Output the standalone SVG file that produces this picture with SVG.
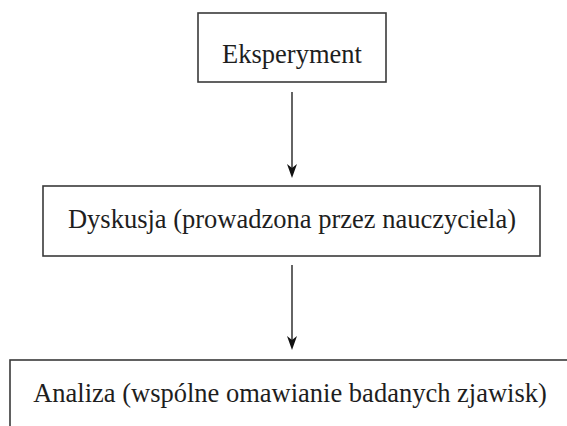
<svg xmlns="http://www.w3.org/2000/svg" width="567" height="426" viewBox="0 0 567 426">
<defs>
<style>
.box{fill:#fff;stroke:#3a3a3a;stroke-width:1.6}
.lbl{font-family:"Liberation Serif","Times New Roman",serif;font-size:26.5px;fill:#1e1e1e;text-anchor:middle}
.conn{stroke:#111;stroke-width:1.3;fill:none}
</style>
<marker id="ah" markerUnits="userSpaceOnUse" markerWidth="12" markerHeight="16" refX="6" refY="15" orient="auto-start-reverse" viewBox="0 0 12 16">
<path d="M6,15 L1,1 L6,5 L11,1 Z" fill="#111" transform="rotate(0)"/>
</marker>
</defs>
<rect width="567" height="426" fill="#fff"/>
<g id="node-eksperyment">
<rect class="box" x="198" y="13" width="188" height="69"/>
<text class="lbl" x="292" y="63">Eksperyment</text>
</g>
<g id="node-dyskusja">
<rect class="box" x="43" y="186" width="497" height="70"/>
<text class="lbl" x="292" y="228">Dyskusja (prowadzona przez nauczyciela)</text>
</g>
<g id="node-analiza">
<rect class="box" x="10" y="360" width="570" height="80"/>
<text class="lbl" x="290" y="402">Analiza (wspólne omawianie badanych zjawisk)</text>
</g>
<g id="connectors">
<line class="conn" x1="292" y1="92" x2="292" y2="170"/>
<path d="M292,178 L287,164 L292,168 L297,164 Z" fill="#111"/>
<line class="conn" x1="292" y1="265" x2="292" y2="342"/>
<path d="M292,350 L287,336 L292,340 L297,336 Z" fill="#111"/>
</g>
</svg>
